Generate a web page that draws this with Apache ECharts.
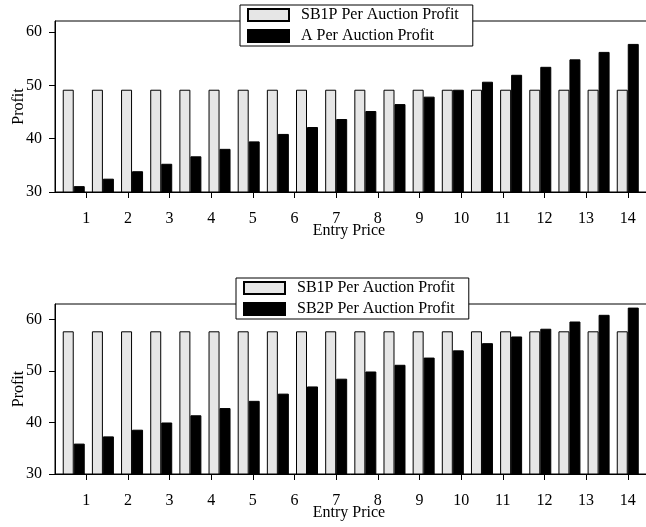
<!DOCTYPE html>
<html>
<head>
<meta charset="utf-8">
<script src="https://cdn.jsdelivr.net/npm/echarts@6/dist/echarts.min.js"></script>
<style>
html,body{margin:0;padding:0;background:#fff;}
#main{width:646px;height:527px;}
</style>
</head>
<body>
<div id="main"></div>
<script>
// Data
var entryPositions = [0.7,1.4,2.1,2.8,3.5,4.2,4.9,5.6,6.3,7.0,7.7,8.4,9.1,9.8,10.5,11.2,11.9,12.6,13.3,14.0];
var tickLabels = [1,2,3,4,5,6,7,8,9,10,11,12,13,14];
var yTicksTop = [30,40,50,60];
var yTicksBottom = [30,40,50,60];

var topSB1P = [49.2,49.2,49.2,49.2,49.2,49.2,49.2,49.2,49.2,49.2,49.2,49.2,49.2,49.2,49.2,49.2,49.2,49.2,49.2,49.2];
var topA = [31.1,32.5,33.9,35.3,36.7,38.1,39.5,40.9,42.2,43.7,45.2,46.5,47.9,49.2,50.7,52.0,53.5,54.9,56.3,57.8];

var botSB1P = [57.7,57.7,57.7,57.7,57.7,57.7,57.7,57.7,57.7,57.7,57.7,57.7,57.7,57.7,57.7,57.7,57.7,57.7,57.7,57.7];
var botSB2P = [35.9,37.3,38.6,40.0,41.4,42.8,44.2,45.6,47.0,48.5,49.9,51.2,52.6,54.0,55.4,56.7,58.2,59.6,60.9,62.3];

var FONT = 'Liberation Serif';

function pairs(vals){ return entryPositions.map(function(x,i){ return [x, vals[i]]; }); }

function xAxisCfg(gi){
  return {
    type:'value', gridIndex:gi, min:0.25, max:14.75,
    name:'Entry Price', nameLocation:'middle', nameGap:31, nameMoveOverlap:false,
    nameTextStyle:{fontFamily:FONT, fontSize:16, color:'#000', padding:[0,16,0,0]},
    axisLine:{show:true, lineStyle:{color:'#000', width:1}},
    axisTick:{show:true, length:6, inside:false, customValues:tickLabels, lineStyle:{color:'#000'}},
    axisLabel:{show:true, customValues:tickLabels, margin:19, fontFamily:FONT, fontSize:16, color:'#000'},
    splitLine:{show:false}
  };
}
function yAxisCfg(gi, max, ticks){
  return {
    type:'value', gridIndex:gi, min:30, max:max,
    name:'Profit', nameLocation:'middle', nameGap:28, nameMoveOverlap:false,
    nameTextStyle:{fontFamily:FONT, fontSize:16, color:'#000'},
    axisLine:{show:true, lineStyle:{color:'#000', width:1}},
    axisTick:{show:true, length:6, customValues:ticks, lineStyle:{color:'#000'}},
    axisLabel:{show:true, customValues:ticks, margin:13, fontFamily:FONT, fontSize:16, color:'#000'},
    splitLine:{show:false}
  };
}
var lightStyle = {color:'#e6e6e6', borderColor:'#000', borderWidth:1};
var darkStyle = {color:'#000', borderColor:'#000', borderWidth:1};

function legendCfg(left, top, names){
  return {
    left:left, top:top, orient:'vertical',
    data:names, icon:'rect', itemWidth:41, itemHeight:12, itemGap:3,
    backgroundColor:'#fff', borderColor:'#000', borderWidth:1, borderRadius:0,
    padding:[1,14,1,7],
    selectedMode:false,
    textStyle:{fontFamily:FONT, fontSize:16, color:'#000', lineHeight:18, padding:[0,0,0,7]}
  };
}

var option = {
  animation:false,
  backgroundColor:'#fff',
  grid:[
    {left:55, width:604, top:21, height:171, show:true, borderColor:'#000', borderWidth:1, backgroundColor:'transparent', containLabel:false, outerBoundsMode:'none'},
    {left:55, width:604, top:304, height:170, show:true, borderColor:'#000', borderWidth:1, backgroundColor:'transparent', containLabel:false, outerBoundsMode:'none'}
  ],
  legend:[
    legendCfg(240, 5, ['SB1P Per Auction Profit','A Per Auction Profit']),
    legendCfg(236, 278, ['SB1P Per Auction Profit','SB2P Per Auction Profit'])
  ],
  xAxis:[xAxisCfg(0), xAxisCfg(1)],
  yAxis:[yAxisCfg(0, 62.1, yTicksTop), yAxisCfg(1, 63, yTicksBottom)],
  series:[
    {type:'bar', name:'SB1P Per Auction Profit', xAxisIndex:0, yAxisIndex:0, data:pairs(topSB1P), barWidth:11, barGap:'0%', itemStyle:lightStyle, clip:true},
    {type:'bar', name:'A Per Auction Profit', xAxisIndex:0, yAxisIndex:0, data:pairs(topA), barWidth:11, barGap:'0%', itemStyle:darkStyle, clip:true},
    {type:'bar', name:'SB1P Per Auction Profit', xAxisIndex:1, yAxisIndex:1, data:pairs(botSB1P), barWidth:11, barGap:'0%', itemStyle:lightStyle, clip:true},
    {type:'bar', name:'SB2P Per Auction Profit', xAxisIndex:1, yAxisIndex:1, data:pairs(botSB2P), barWidth:11, barGap:'0%', itemStyle:darkStyle, clip:true}
  ]
};
var chart = echarts.init(document.getElementById('main'), null, {renderer:'canvas'});
chart.setOption(option);
</script>
</body>
</html>
